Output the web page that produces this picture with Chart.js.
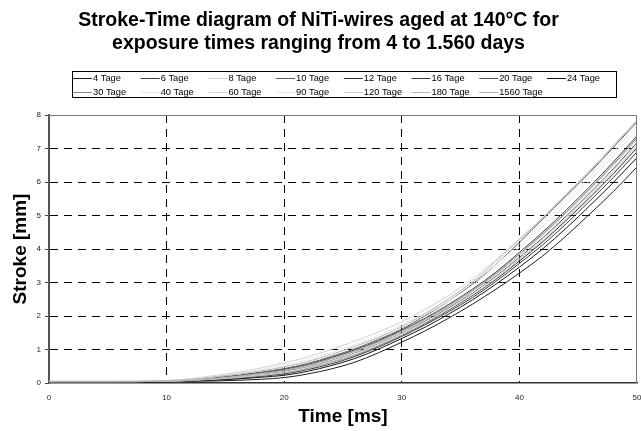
<!DOCTYPE html>
<html>
<head>
<meta charset="utf-8">
<script src="https://cdn.jsdelivr.net/npm/chart.js@4.4.0/dist/chart.umd.min.js"></script>
<style>
  html, body { margin: 0; padding: 0; background: #fff; }
  #wrap { width: 641px; height: 431px; }
</style>
</head>
<body>
<div id="wrap"><canvas id="c" width="641" height="431"></canvas></div>
<script>
// time axis [ms]
const timeMs = [0, 5, 10, 12, 14, 16, 18, 20, 22, 24, 26, 28, 30, 32, 34, 36, 38, 40, 42, 44, 46, 48, 50];

// stroke [mm]
const tage4    = [0.03,0.03,0.04,0.05,0.06,0.08,0.11,0.16,0.27,0.42,0.62,0.90,1.22,1.56,1.94,2.35,2.80,3.28,3.80,4.40,5.05,5.72,6.45];
const tage6    = [0.04,0.04,0.06,0.09,0.15,0.22,0.31,0.41,0.56,0.76,0.99,1.26,1.58,1.94,2.35,2.80,3.31,3.90,4.51,5.17,5.87,6.60,7.38];
const tage8    = [0.05,0.05,0.08,0.13,0.22,0.32,0.45,0.60,0.78,1.00,1.25,1.52,1.83,2.20,2.62,3.10,3.68,4.30,4.95,5.65,6.35,7.10,7.85];
const tage10   = [0.04,0.04,0.06,0.10,0.16,0.23,0.32,0.43,0.58,0.79,1.02,1.30,1.61,2.01,2.45,2.95,3.54,4.20,4.90,5.59,6.29,7.04,7.79];
const tage12   = [0.04,0.04,0.05,0.07,0.11,0.16,0.22,0.30,0.43,0.62,0.83,1.11,1.43,1.78,2.18,2.61,3.09,3.64,4.22,4.86,5.54,6.25,7.02];
const tage16   = [0.04,0.04,0.05,0.07,0.10,0.14,0.20,0.27,0.40,0.57,0.79,1.07,1.39,1.74,2.13,2.55,3.03,3.57,4.13,4.76,5.44,6.14,6.90];
const tage20   = [0.04,0.04,0.05,0.08,0.12,0.18,0.25,0.34,0.48,0.67,0.89,1.17,1.49,1.85,2.25,2.68,3.18,3.75,4.34,4.99,5.68,6.40,7.18];
const tage24   = [0.03,0.03,0.04,0.06,0.08,0.12,0.17,0.23,0.35,0.52,0.73,1.01,1.33,1.67,2.06,2.48,2.95,3.46,4.01,4.63,5.30,5.99,6.73];
const tage30   = [0.04,0.04,0.05,0.09,0.14,0.20,0.29,0.38,0.53,0.73,0.95,1.23,1.55,1.91,2.31,2.76,3.27,3.85,4.46,5.11,5.81,6.54,7.32];
const tage40   = [0.05,0.05,0.07,0.11,0.18,0.26,0.36,0.48,0.64,0.85,1.09,1.36,1.68,2.04,2.45,2.91,3.45,4.05,4.68,5.35,6.05,6.79,7.56];
const tage60   = [0.04,0.04,0.05,0.08,0.12,0.17,0.25,0.33,0.47,0.66,0.88,1.16,1.48,1.83,2.23,2.66,3.16,3.72,4.31,4.95,5.65,6.37,7.14];
const tage90   = [0.05,0.05,0.07,0.12,0.19,0.28,0.40,0.53,0.70,0.91,1.15,1.42,1.74,2.10,2.52,2.99,3.54,4.15,4.79,5.47,6.17,6.91,7.67];
const tage120  = [0.04,0.04,0.05,0.07,0.11,0.16,0.22,0.30,0.43,0.62,0.84,1.12,1.44,1.80,2.20,2.63,3.12,3.68,4.26,4.91,5.60,6.32,7.08];
const tage180  = [0.05,0.05,0.07,0.11,0.18,0.26,0.36,0.48,0.64,0.85,1.09,1.36,1.68,2.07,2.52,3.02,3.63,4.28,4.92,5.62,6.32,7.07,7.82];
const tage1560 = [0.04,0.04,0.05,0.08,0.13,0.20,0.28,0.37,0.51,0.72,0.94,1.22,1.54,1.90,2.30,2.74,3.24,3.83,4.43,5.08,5.78,6.51,7.29];

const seriesLabels = ['4 Tage','6 Tage','8 Tage','10 Tage','12 Tage','16 Tage','20 Tage','24 Tage',
                      '30 Tage','40 Tage','60 Tage','90 Tage','120 Tage','180 Tage','1560 Tage'];
const seriesValues = [tage4, tage6, tage8, tage10, tage12, tage16, tage20, tage24,
                      tage30, tage40, tage60, tage90, tage120, tage180, tage1560];
const seriesColors = ['#1e1e1e','#404040','#d0d0d0','#5a5a5a','#2e2e2e','#383838','#505050','#141414',
                      '#8a8a8a','#e4e4e4','#d8d8d8','#e6e6e6','#c8c8c8','#b8b8b8','#b0b0b0'];

const xMin = 0, xMax = 50, xStep = 10;
const yMin = 0, yMax = 8, yStep = 1;

const FONT = '"Liberation Sans", Arial, Helvetica, sans-serif';

// legend in a box, 8 columns, like the Excel original
const boxLegend = {
  id: 'boxLegend',
  afterDraw(chart) {
    const ctx = chart.ctx;
    ctx.save();
    ctx.strokeStyle = '#000';
    ctx.lineWidth = 1;
    ctx.strokeRect(72.5, 71.5, 544, 26);
    ctx.font = '9.3px ' + FONT;
    ctx.textBaseline = 'middle';
    ctx.textAlign = 'left';
    chart.data.datasets.forEach((ds, i) => {
      const col = i % 8, row = Math.floor(i / 8);
      const tx = 93 + col * 67.7;
      const y = row ? 92 : 78;
      ctx.strokeStyle = ds.borderColor;
      ctx.beginPath();
      ctx.moveTo(tx - 20, y + 0.5);
      ctx.lineTo(tx - 1, y + 0.5);
      ctx.stroke();
      ctx.fillStyle = '#000';
      ctx.fillText(ds.label, tx, y + 0.5);
    });
    ctx.restore();
  }
};

// grey frame on top and right side of the plot area
const plotFrame = {
  id: 'plotFrame',
  afterDraw(chart) {
    const { ctx, chartArea: a } = chart;
    ctx.save();
    ctx.strokeStyle = '#7a7a7a';
    ctx.lineWidth = 1;
    ctx.beginPath();
    ctx.moveTo(a.left, a.top + 0.5);
    ctx.lineTo(a.right - 0.5, a.top + 0.5);
    ctx.lineTo(a.right - 0.5, a.bottom);
    ctx.stroke();
    ctx.restore();
  }
};

const hideEdge = (lo, hi) => c => (c.tick && (c.tick.value === lo || c.tick.value === hi)) ? 'rgba(0,0,0,0)' : '#000';

new Chart(document.getElementById('c'), {
  type: 'line',
  data: {
    datasets: seriesLabels.map((label, i) => ({
      label: label,
      data: timeMs.map((t, j) => ({ x: t, y: seriesValues[i][j] })),
      borderColor: seriesColors[i],
      borderWidth: 1,
      pointRadius: 0,
      cubicInterpolationMode: 'monotone',
      fill: false,
      order: -i
    }))
  },
  options: {
    responsive: false,
    animation: false,
    events: [],
    layout: { padding: { top: 0, right: 4, bottom: 0, left: 0 } },
    plugins: {
      legend: { display: false },
      tooltip: { enabled: false },
      title: {
        display: true,
        text: ['Stroke-Time diagram of NiTi-wires aged at 140°C for', 'exposure times ranging from 4 to 1.560 days'],
        color: '#000',
        font: { family: FONT, size: 19.5, weight: 'bold', lineHeight: 1.18 },
        padding: { top: 9, bottom: 60 }
      }
    },
    scales: {
      x: {
        type: 'linear',
        min: xMin, max: xMax,
        ticks: { stepSize: xStep, color: '#222', padding: 6, font: { family: FONT, size: 8 } },
        grid: { color: hideEdge(xMin, xMax), lineWidth: 1, tickLength: 4, tickColor: 'rgba(0,0,0,0)' },
        border: { color: '#333', width: 1.5, dash: [8, 6] },
        title: { display: true, text: 'Time [ms]', color: '#000', font: { family: FONT, size: 19, weight: 'bold', lineHeight: 1.2 }, padding: { top: 0, bottom: 3 } },
        afterFit: s => { s.height = 48; s.paddingRight = 0; s.paddingLeft = 0; }
      },
      y: {
        type: 'linear',
        min: yMin, max: yMax,
        ticks: { stepSize: yStep, color: '#222', padding: 4, font: { family: FONT, size: 8 } },
        grid: { color: hideEdge(yMin, yMax), lineWidth: 1, tickLength: 4, tickColor: '#444' },
        border: { color: '#555', width: 2, dash: [8, 6] },
        title: { display: true, text: 'Stroke [mm]', color: '#000', font: { family: FONT, size: 19, weight: 'bold', lineHeight: 1.2 }, padding: { top: 9, bottom: 0 } },
        afterFit: s => { s.width = 49; }
      }
    }
  },
  plugins: [boxLegend, plotFrame]
});
</script>
</body>
</html>
